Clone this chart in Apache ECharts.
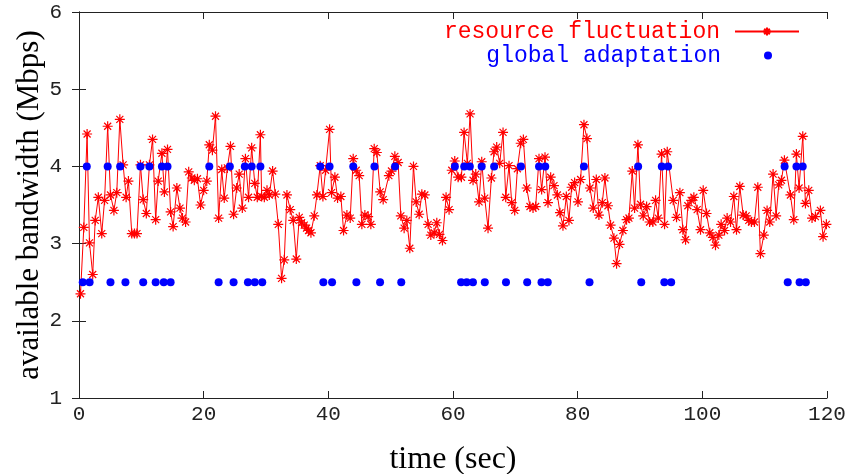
<!DOCTYPE html>
<html>
<head>
<meta charset="utf-8">
<script src="https://cdn.jsdelivr.net/npm/echarts@6/dist/echarts.min.js"></script>
<style>
    html, body {margin: 0; padding: 0; background: #fff;}
    #chartDiv {width: 849px; height: 474px;}
</style>
</head>
<body>
<div id="chartDiv"></div>
<script>
    // resource fluctuation: time (sec) / available bandwidth (Mbps)
    var fluctTime = [
        0.24, 0.77, 1.30, 1.68, 2.20, 2.60, 3.10, 3.65, 4.10, 4.60, 5.05, 5.60, 6.06, 6.55, 7.08, 7.56, 7.93, 8.47, 8.90, 9.30,
        9.86, 10.3, 10.8, 11.3, 11.8, 12.3, 12.7, 13.3, 13.7, 14.2, 14.7, 15.1, 15.7, 16.2, 16.6, 17.1, 17.6, 18.1, 18.5, 19.0,
        19.5, 20.0, 20.5, 20.9, 21.4, 21.9, 22.4, 22.9, 23.3, 23.8, 24.3, 24.8, 25.3, 25.7, 26.2, 26.7, 27.2, 27.7, 28.2, 28.6,
        29.1, 29.30, 29.73, 30.16, 30.53, 31.06, 31.49, 31.97, 32.50, 32.93, 33.36, 33.89, 34.37, 34.86, 35.34, 35.71, 36.14, 36.51, 36.83, 37.21,
        37.74, 38.17, 38.70, 39.13, 39.56, 40.20, 40.52, 41.05, 41.48, 42.01, 42.44, 42.98, 43.51, 43.99, 44.47, 44.95, 45.38, 45.86, 46.39, 46.82,
        47.36, 47.78, 48.32, 48.80, 49.71, 50.13, 50.67, 51.20, 51.63, 52.16, 52.59, 53.07, 53.66, 54.09, 54.57, 55.00, 55.48, 56.01, 56.44, 56.97,
        57.40, 57.83, 58.31, 58.89, 59.37, 59.80, 60.28, 60.82, 61.35, 61.78, 62.31, 62.74, 63.22, 63.65, 64.18, 64.61, 65.09, 65.62, 66.16, 66.59,
        67.01, 67.49, 68.03, 68.46, 68.99, 69.42, 69.90, 70.33, 70.86, 71.29, 71.82, 72.35, 72.84, 73.26, 73.80, 74.22, 74.76, 75.24, 75.67, 76.20,
        76.74, 77.16, 77.64, 78.18, 78.60, 79.03, 79.51, 80.05, 80.47, 81.01, 81.49, 81.97, 82.50, 82.99, 83.41, 83.95, 84.37, 84.86, 85.28, 85.82,
        86.24, 86.72, 87.26, 87.85, 88.22, 88.76, 89.13, 89.67, 90.09, 90.52, 91.06, 91.54, 92.07, 92.50, 92.93, 93.46, 93.94, 94.37, 95.33, 95.86,
        96.40, 96.88, 97.31, 97.68, 98.21, 98.64, 99.17, 99.71, 100.14, 100.67, 101.20, 101.69, 102.11, 102.65, 103.02, 103.56, 103.98, 104.52, 105.05, 105.48,
        106.01, 106.55, 107.03, 107.45, 107.88, 108.36, 108.90, 109.32, 109.86, 110.39, 110.82, 111.35, 111.84, 112.26, 112.69, 113.17, 114.13, 114.67, 115.09, 115.52,
        116.11, 116.54, 117.07, 117.60, 118.14, 118.94, 119.37, 119.90
    ];
    var fluctBandwidth = [
        2.35, 3.21, 4.42, 3.01, 2.60, 3.30, 3.60, 3.13, 3.56, 4.52, 3.63, 3.43, 3.66, 4.61, 4.02, 3.60, 3.81, 3.13, 3.13, 3.13,
        4.02, 3.57, 3.39, 4.02, 4.35, 3.31, 3.81, 4.17, 3.67, 4.22, 3.41, 3.22, 3.72, 3.46, 3.33, 3.28, 3.93, 3.85, 3.82, 3.84,
        3.50, 3.69, 3.81, 4.28, 4.21, 4.65, 3.33, 3.96, 3.59, 3.98, 4.26, 3.38, 3.72, 3.90, 3.46, 4.10, 3.60, 4.24, 3.78, 3.60,
        4.41, 3.61, 3.60, 3.69, 3.63, 3.94, 3.64, 3.25, 2.55, 2.79, 3.63, 3.44, 3.30, 2.80, 3.34, 3.27, 3.24, 3.20, 3.17, 3.14,
        3.36, 3.63, 4.01, 3.61, 3.95, 4.48, 3.66, 3.86, 3.59, 3.61, 3.17, 3.37, 3.33, 4.10, 3.95, 3.88, 3.25, 3.37, 3.35, 3.25,
        4.23, 4.18, 3.67, 3.57, 3.88, 3.94, 4.13, 4.05, 3.36, 3.20, 3.30, 2.94, 4.00, 3.54, 3.38, 3.64, 3.63, 3.25, 3.11, 3.14,
        3.27, 3.12, 3.04, 3.60, 3.44, 3.95, 4.07, 3.86, 3.86, 4.44, 4.04, 4.68, 3.82, 3.90, 3.54, 4.06, 3.59, 3.20, 3.85, 4.19,
        4.25, 4.04, 4.44, 3.60, 4.01, 3.53, 3.43, 3.97, 4.30, 4.35, 3.72, 3.48, 3.46, 3.48, 4.10, 3.70, 4.12, 3.53, 3.86, 3.75,
        3.63, 3.40, 3.23, 3.61, 3.30, 3.73, 3.79, 3.54, 3.83, 4.54, 4.36, 3.72, 3.46, 3.83, 3.37, 3.53, 3.85, 3.49, 3.24, 3.07,
        2.74, 2.99, 3.17, 3.31, 3.33, 3.94, 3.46, 4.28, 3.51, 3.36, 3.48, 3.28, 3.28, 3.56, 3.33, 4.16, 3.25, 4.19, 3.56, 3.34,
        3.66, 3.18, 3.05, 3.49, 3.56, 3.60, 3.44, 3.18, 3.69, 3.39, 3.14, 3.08, 2.98, 3.11, 3.25, 3.17, 3.33, 3.28, 3.61, 3.18,
        3.74, 3.37, 3.36, 3.30, 3.28, 3.28, 3.73, 2.87, 3.11, 3.43, 3.28, 3.90, 3.36, 3.76, 3.82, 4.08, 3.63, 3.31, 4.16, 3.72,
        4.39, 3.52, 3.69, 3.33, 3.35, 3.43, 3.09, 3.25
    ];

    // global adaptation events: time (sec) / level (Mbps)
    var adaptTime = [
        0.6, 1.25, 1.7, 4.6, 5.05, 6.6, 7.45, 9.86, 10.3, 11.3, 12.3, 13.3, 13.6, 14.2, 14.7, 20.9, 22.4, 24.2, 24.8, 26.6,
        27.1, 27.7, 28.2, 29.1, 29.4, 38.7, 39.2, 40.2, 40.6, 44.0, 44.5, 47.4, 48.3, 50.7, 51.7, 60.3, 61.3, 61.8, 62.2, 62.7,
        63.2, 64.6, 65.1, 66.6, 68.5, 70.9, 71.9, 73.8, 74.2, 74.8, 75.2, 81.0, 81.9, 89.7, 90.2, 93.5, 93.9, 94.5, 95.0, 113.2,
        113.7, 115.1, 115.6, 116.1, 116.6
    ];
    var adaptLevel = [
        2.5, 4, 2.5, 4, 2.5, 4, 2.5, 4, 2.5, 4, 2.5, 4, 2.5, 4, 2.5, 4, 2.5, 4, 2.5, 4,
        2.5, 4, 2.5, 4, 2.5, 4, 2.5, 4, 2.5, 4, 2.5, 4, 2.5, 4, 2.5, 4, 2.5, 4, 2.5, 4,
        2.5, 4, 2.5, 4, 2.5, 4, 2.5, 4, 2.5, 4, 2.5, 4, 2.5, 4, 2.5, 4, 2.5, 4, 2.5, 4,
        2.5, 4, 2.5, 4, 2.5
    ];

    var xTickLabels = ['0', '20', '40', '60', '80', '100', '120'];
    var yTickLabels = ['1', '2', '3', '4', '5', '6'];

    function zip(xs, ys) {
        var out = [];
        for (var i = 0; i < xs.length; i++) {
            out.push([xs[i], ys[i]]);
        }
        return out;
    }

    var starSymbol = 'path://M5,0L5,10M0,5L10,5M1.5,1.5L8.5,8.5M1.5,8.5L8.5,1.5';
    var monoFont = 'Liberation Mono';
    var serifFont = 'Liberation Serif';
    var axisColor = '#222';

    var chart = echarts.init(document.getElementById('chartDiv'), null, {renderer: 'canvas'});
    var option = {
        animation: false,
        backgroundColor: '#fff',
        grid: {left: 79, right: 22, top: 12, bottom: 76, outerBoundsMode: 'none'},
        legend: [
            {
                data: ['resource fluctuation'],
                right: 49,
                top: 20,
                padding: 0,
                align: 'right',
                itemWidth: 64,
                itemHeight: 10,
                textStyle: {fontFamily: monoFont, fontSize: 23, color: '#ff0000', padding: [0, 10, 0, 0]}
            },
            {
                data: ['global adaptation'],
                right: 77,
                top: 44,
                padding: 0,
                align: 'right',
                itemWidth: 8,
                itemHeight: 8,
                textStyle: {fontFamily: monoFont, fontSize: 23, color: '#0000ff', padding: [0, 38, 0, 0]}
            }
        ],
        xAxis: [
            {
                type: 'value',
                min: 0,
                max: 120,
                interval: 20,
                name: 'time (sec)',
                nameLocation: 'middle',
                nameGap: 46,
                nameTextStyle: {fontFamily: serifFont, fontSize: 32, color: '#000'},
                axisLine: {show: true, lineStyle: {color: axisColor, width: 1}},
                axisTick: {show: true, inside: true, length: 7, lineStyle: {color: axisColor}},
                axisLabel: {
                    fontFamily: monoFont, fontSize: 21, color: '#222', margin: 6,
                    formatter: function (v) { return xTickLabels[Math.round(v / 20)]; }
                },
                splitLine: {show: false}
            },
            {
                type: 'value',
                position: 'top',
                min: 0,
                max: 120,
                interval: 20,
                axisLine: {show: true, lineStyle: {color: axisColor, width: 1}},
                axisTick: {show: true, inside: true, length: 7, lineStyle: {color: axisColor}},
                axisLabel: {show: false},
                splitLine: {show: false}
            }
        ],
        yAxis: [
            {
                type: 'value',
                min: 1,
                max: 6,
                interval: 1,
                name: 'available bandwidth (Mbps)',
                nameLocation: 'middle',
                nameMoveOverlap: false,
                nameGap: 34,
                nameTextStyle: {fontFamily: serifFont, fontSize: 31, color: '#000'},
                axisLine: {show: true, lineStyle: {color: axisColor, width: 1}},
                axisTick: {show: true, inside: true, length: 7, lineStyle: {color: axisColor}},
                axisLabel: {
                    fontFamily: monoFont, fontSize: 21, color: '#222', margin: 17,
                    formatter: function (v) { return yTickLabels[Math.round(v) - 1]; }
                },
                splitLine: {show: false}
            },
            {
                type: 'value',
                position: 'right',
                min: 1,
                max: 6,
                interval: 1,
                axisLine: {show: true, lineStyle: {color: axisColor, width: 1}},
                axisTick: {show: true, inside: true, length: 7, lineStyle: {color: axisColor}},
                axisLabel: {show: false},
                splitLine: {show: false}
            }
        ],
        series: [
            {
                name: 'resource fluctuation',
                type: 'line',
                xAxisIndex: 0,
                yAxisIndex: 0,
                data: zip(fluctTime, fluctBandwidth),
                symbol: starSymbol,
                symbolSize: 10,
                showAllSymbol: true,
                lineStyle: {color: '#ff0000', width: 1},
                itemStyle: {color: '#ff0000', borderColor: '#ff0000', borderWidth: 1.2},
                z: 2
            },
            {
                name: 'global adaptation',
                type: 'scatter',
                xAxisIndex: 0,
                yAxisIndex: 0,
                data: zip(adaptTime, adaptLevel),
                symbol: 'circle',
                symbolSize: 8,
                itemStyle: {color: '#0000ff', opacity: 1},
                z: 3
            }
        ]
    };
    chart.setOption(option);
</script>
</body>
</html>
